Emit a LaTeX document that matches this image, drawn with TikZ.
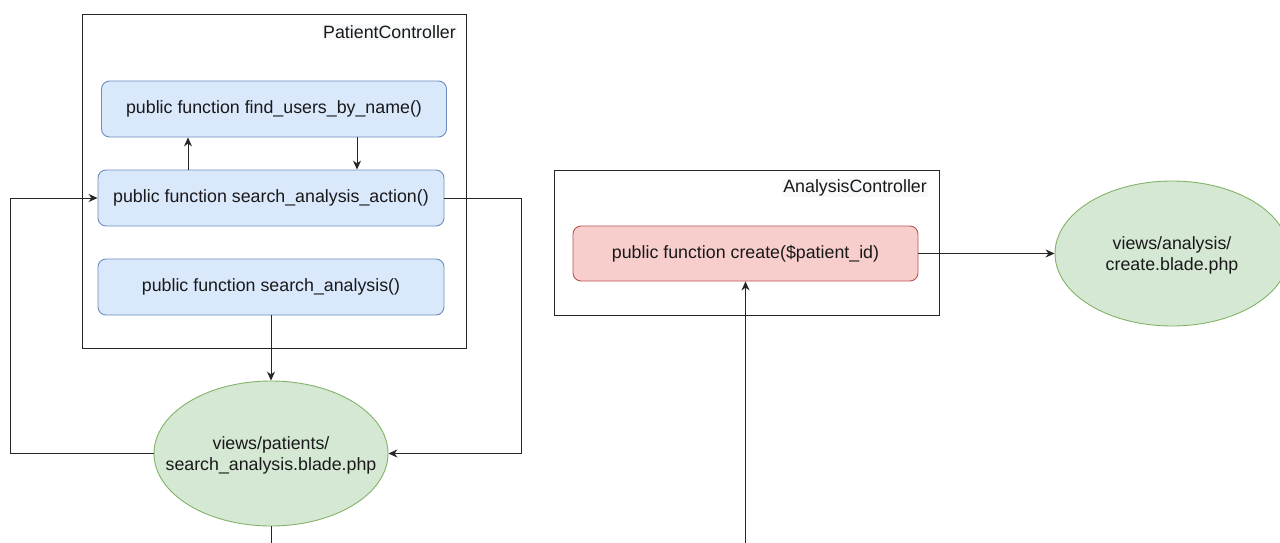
\documentclass[tikz,border=0pt]{standalone}
\usepackage{fontspec}
\setmainfont{Liberation Sans}
\usetikzlibrary{shapes.geometric,arrows.meta,calc}
\definecolor{bfill}{HTML}{DAE8FC}
\definecolor{bdraw}{HTML}{6C8EBF}
\definecolor{rfill}{HTML}{F8CECC}
\definecolor{rdraw}{HTML}{B85450}
\definecolor{gfill}{HTML}{D5E8D4}
\definecolor{gdraw}{HTML}{82B366}
\definecolor{lblbg}{HTML}{F8F9FA}
\tikzset{
  txt/.style={font=\fontsize{17.8}{20.5}\selectfont, text=black!90, align=center},
  ctrl/.style={draw=black!85, line width=0.9pt, fill=white, inner sep=0pt},
  fn/.style={txt, rounded corners=8pt, line width=0.9pt, inner sep=0pt},
  bluefn/.style={fn, draw=bdraw, fill=bfill},
  redfn/.style={fn, draw=rdraw, fill=rfill},
  view/.style={ellipse, draw=gdraw, fill=gfill, line width=0.9pt, inner sep=0pt,
               minimum width=234pt, minimum height=145pt},
  lbl/.style={txt, fill=lblbg, inner sep=1pt},
  arr/.style={draw=black!85, line width=0.9pt, -{Stealth[length=9pt,width=8pt]}},
  ln/.style={draw=black!85, line width=0.9pt},
}
\begin{document}
\begin{tikzpicture}[x=1pt,y=-1pt]
\useasboundingbox (0,0) rectangle (1280,543);
\clip (0,0) rectangle (1280,543);
% Patient controller
\node[ctrl, minimum width=384pt, minimum height=334pt] (pc) at (274,181) {};
\node[lbl, anchor=east] (pcl) at (457,32) {PatientController};
\node[bluefn, minimum width=345pt, minimum height=56pt] (fu) at (274,109) {public function find\_users\_by\_name()};
\node[bluefn, minimum width=346pt, minimum height=56pt] (saa) at (271,198) {public function search\_analysis\_action()};
\node[bluefn, minimum width=346pt, minimum height=56pt] (sa) at (271,287) {public function search\_analysis()};
\node[view, label={[txt, yshift=-2pt]center:{views/patients/\\search\_analysis.blade.php}}] (e1) at (271,453.5) {};
% Analysis controller
\node[ctrl, minimum width=385pt, minimum height=145pt] (ac) at (746.5,242.5) {};
\node[lbl, anchor=east] (acl) at (928,188) {AnalysisController};
\node[redfn, minimum width=345pt, minimum height=55pt] (cr) at (745.5,253.5) {public function create(\$patient\_id)};
\node[view, label={[txt, yshift=-2pt]center:{views/analysis/\\create.blade.php}}] (e2) at (1172,253.5) {};
% coordinates
\coordinate (lx) at (10,0);
\coordinate (rx) at (521,0);
\coordinate (b1) at (271,543);
\coordinate (b2) at (745.5,543);
% connectors
\draw[arr] ([xshift=-83pt]saa.north) -- ([xshift=-83pt]saa.north |- fu.south);
\draw[arr] ([xshift=83pt]fu.south) -- ([xshift=83pt]fu.south |- saa.north);
\draw[arr] (sa.south) -- (e1.north);
\draw[arr] (e1.west) -- (e1.west -| lx) |- (saa.west);
\draw[arr] (saa.east) -- (saa.east -| rx) |- (e1.east);
\draw[ln] (e1.south) -- (b1);
\draw[arr] (b2) -- (cr.south);
\draw[arr] (cr.east) -- (e2.west);
\end{tikzpicture}
\end{document}
